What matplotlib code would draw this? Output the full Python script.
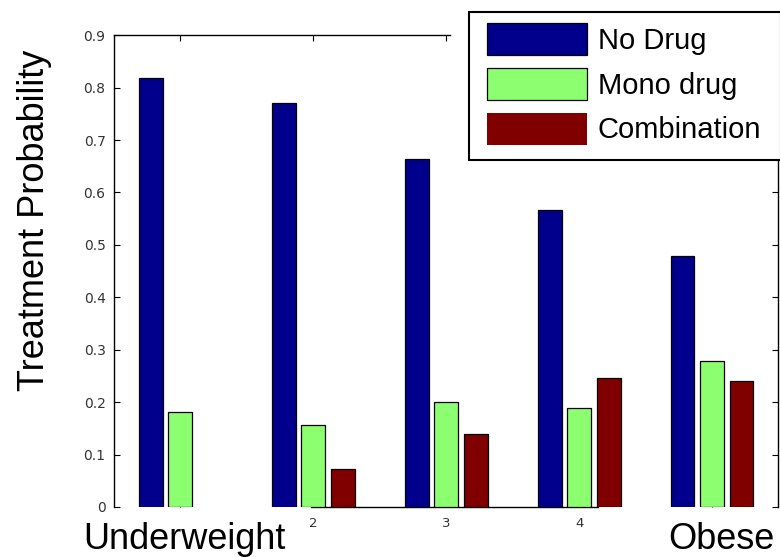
import matplotlib.pyplot as plt
from matplotlib.patches import Rectangle
import numpy as np

# bar heights (BMI groups 1..5)
groups = [1, 2, 3, 4, 5]
no_drug = [0.818, 0.770, 0.663, 0.566, 0.478]
mono_drug = [0.182, 0.157, 0.200, 0.188, 0.279]
combination = [0.0, 0.073, 0.140, 0.246, 0.240]
series_names = ['No Drug', 'Mono drug', 'Combination']
x_ticklabels = ['', '2', '3', '4', '']
y_ticks = [0, 0.1, 0.2, 0.3, 0.4, 0.5, 0.6, 0.7, 0.8, 0.9]
y_ticklabels = ['0', '0.1', '0.2', '0.3', '0.4', '0.5', '0.6', '0.7', '0.8', '0.9']

colors = ['#00008c', '#8cff70', '#800000']

plt.rcParams['font.family'] = ['Liberation Sans', 'DejaVu Sans']

fig = plt.figure(figsize=(7.8, 5.57), dpi=100)
ax = fig.add_axes([0.146, 0.0898, 0.852, 0.847])

x = np.array(groups, dtype=float)
width = 0.18
step = 0.222
for i, (vals, name) in enumerate(zip([no_drug, mono_drug, combination], series_names)):
    lws = [0 if v == 0 else 0.9 for v in vals]
    ax.bar(x + (i - 1) * step, vals, width, color=colors[i], edgecolor='black',
           linewidth=lws, label=name, zorder=3)

ax.set_xlim(0.5, 5.5)
ax.set_ylim(0, 0.9)
ax.set_yticks(y_ticks)
ax.set_yticklabels(y_ticklabels, family='DejaVu Sans')
ax.set_xticks(groups)
ax.set_xticklabels(x_ticklabels, family='DejaVu Sans')
ax.tick_params(axis='y', direction='in', length=4, width=0.8, labelsize=10,
               labelcolor='#333333', right=True, pad=6)
ax.tick_params(axis='x', direction='in', length=4, width=0.8, labelsize=9.5,
               labelcolor='#333333', top=True, pad=7)

ax.spines['bottom'].set_bounds(1.98, 4.14)
ax.spines['top'].set_bounds(0.5, 3.03)
for s in ax.spines.values():
    s.set_linewidth(1.0)

fig.text(0.0436, 0.605, 'Treatment Probability', rotation=90, fontsize=26,
         ha='center', va='center')
fig.text(83 / 780, 0.0144, 'Underweight', fontsize=26, ha='left', va='baseline')
fig.text(668 / 780, 0.0144, 'Obese', fontsize=26, ha='left', va='baseline')

# legend box drawn separately so its padding can match the reference
ax.add_patch(Rectangle((469 / 780, 1 - 160 / 557), 312 / 780, 148 / 557,
                       transform=fig.transFigure, facecolor='white',
                       edgecolor='black', linewidth=1.5, zorder=4.5,
                       clip_on=False))
leg = ax.legend(loc='upper left', bbox_to_anchor=(487 / 780, 1 - 23 / 557),
                bbox_transform=fig.transFigure, fontsize=21, frameon=False,
                handlelength=3.42, handleheight=1.31, handletextpad=0.38,
                labelspacing=0.44, borderpad=0, borderaxespad=0)

fig.savefig('out.png', dpi=100)
